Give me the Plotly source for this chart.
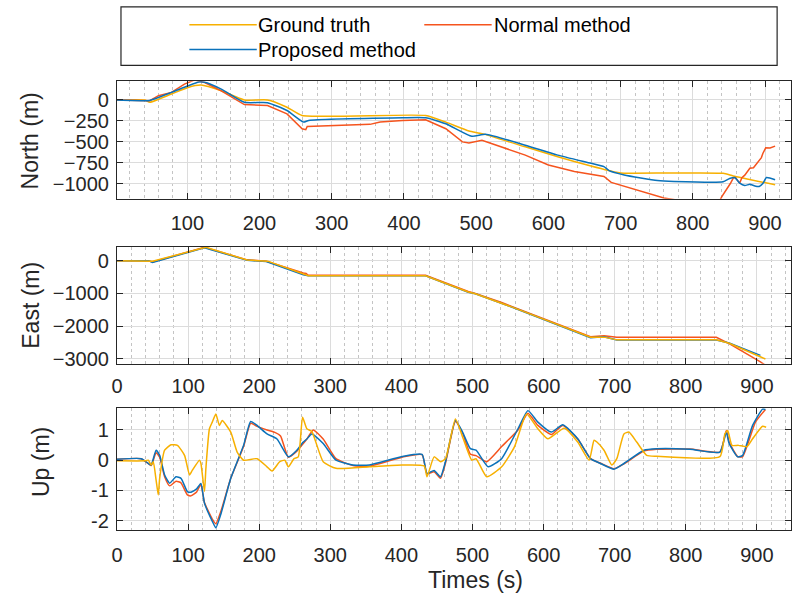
import plotly.graph_objects as go

# ---------------- data ----------------
# North (m)
north_t_gt = [2.6, 41, 48, 78, 101, 119, 147, 179, 211, 238, 259, 430, 458, 490, 508, 568, 613, 659, 696, 705, 842, 856, 914]
north_gt = [0, 0, -28, 71, 150, 178, 110, 0, 0, -87, -186, -186, -265, -371, -403, -561, -680, -790, -869, -877, -877, -909, -1016]

north_t_prop = [2.6, 41, 48, 78, 101, 116, 124, 147, 179, 211, 238, 261, 268, 398, 430, 458, 494, 513, 568, 613, 659, 677, 684, 705, 751, 774, 842, 851, 858, 865, 872, 879, 886, 892, 897, 902, 914]
north_prop = [0, -8, -5, 91, 170, 215, 212, 130, -28, -32, -126, -265, -245, -213, -213, -284, -435, -411, -541, -660, -758, -798, -845, -897, -964, -975, -979, -940, -928, -995, -1023, -1010, -1030, -1035, -1000, -928, -956]

north_t_norm = [2.6, 41, 48, 60, 78, 96, 110, 124, 147, 179, 211, 238, 259, 264, 266, 353, 367, 398, 430, 458, 481, 490, 508, 568, 600, 636, 677, 687, 728, 760, 790, 836, 840, 843, 846, 849, 852, 856, 859, 865, 868, 872, 875, 879, 884, 887, 892, 895, 897, 901, 907, 914]
north_norm = [0, 0, -8, 51, 91, 190, 240, 209, 110, -55, -67, -166, -344, -356, -316, -292, -265, -245, -237, -344, -502, -514, -482, -660, -778, -857, -916, -987, -1094, -1173, -1215, -1230, -1160, -1120, -1080, -1050, -1000, -936, -928, -995, -930, -900, -870, -818, -812, -780, -719, -690, -640, -573, -575, -553]

# East (m)
east_t_gt = [0, 44, 50, 125, 183, 212, 262, 269, 434, 494, 504, 541, 555, 666, 685, 703, 843, 861, 912]
east_gt = [0, 0, -20, 410, 18, -15, -420, -460, -460, -960, -1011, -1294, -1415, -2344, -2340, -2424, -2424, -2526, -3011]

east_t_prop = [0, 44, 50, 123, 183, 210, 262, 269, 434, 494, 504, 541, 555, 666, 685, 703, 843, 861, 905]
east_prop = [0, 0, -52, 395, 10, -25, -430, -465, -465, -970, -1011, -1310, -1420, -2360, -2330, -2430, -2430, -2520, -2900]

east_t_norm = [0, 44, 50, 123, 183, 210, 262, 266, 269, 434, 494, 504, 541, 555, 666, 685, 703, 843, 861, 905, 912]
east_norm = [0, 0, -40, 410, 25, -15, -380, -390, -445, -445, -940, -1000, -1280, -1400, -2330, -2300, -2340, -2343, -2540, -3100, -3200]

# Up (m)
up_t_gt = [0, 40, 44, 48, 51, 55, 58, 60, 67, 76, 85, 95, 102, 106, 116, 118, 123, 125, 130, 134, 139, 144, 148, 160, 169, 178, 197, 211, 218, 229, 236, 241, 249, 255, 261, 267, 274, 290, 308, 355, 401, 432, 436, 446, 455, 462, 476, 487, 499, 505, 520, 541, 559, 576, 592, 606, 629, 648, 664, 671, 675, 685, 696, 703, 713, 720, 731, 745, 759, 848, 855, 859, 865, 874, 886, 894, 908, 913]
up_gt = [-0.02, -0.02, 0.0, -0.16, -0.05, -0.66, -1.15, -0.6, 0.33, 0.51, 0.49, 0.16, -0.49, -0.33, 0.0, -0.1, -1.04, -0.28, 1.04, 1.26, 1.53, 1.15, 1.31, 0.93, 0.27, 0.0, 0.05, -0.22, -0.36, -0.05, 0.0, -0.22, 0.05, 0.11, 1.42, 1.04, 0.95, -0.05, -0.27, -0.22, -0.16, -0.19, -0.55, 0.11, -0.05, 0.05, 1.36, 0.71, 0.0, 0.05, -0.55, -0.22, 0.44, 1.53, 1.04, 0.71, 1.06, 0.6, 0.0, 0.66, 0.6, 0.33, -0.16, 0.05, 0.87, 0.93, 0.6, 0.16, 0.13, 0.12, 0.87, 0.98, 0.49, 0.49, 0.45, 0.71, 1.12, 1.09]

up_t_prop = [0, 34, 44, 48, 55, 60, 67, 74, 83, 90, 99, 104, 112, 118, 123, 134, 139, 146, 160, 178, 188, 197, 211, 225, 241, 253, 262, 267, 274, 290, 308, 332, 355, 401, 429, 436, 446, 455, 462, 476, 486, 497, 505, 522, 541, 564, 578, 592, 611, 627, 648, 666, 680, 699, 713, 741, 759, 806, 848, 857, 861, 873, 880, 894, 908, 912]
up_prop = [0.03, 0.05, -0.11, -0.16, 0.33, 0.16, -0.49, -0.76, -0.55, -0.6, -1.04, -1.06, -0.95, -0.77, -1.42, -2.02, -2.24, -1.79, -0.6, 0.49, 1.28, 1.15, 0.87, 0.7, 0.11, 0.33, 0.6, 0.7, 0.87, 0.55, 0.0, -0.16, -0.16, 0.12, 0.19, -0.44, -0.34, -0.55, -0.05, 1.31, 0.93, 0.38, 0.33, -0.22, 0.05, 1.04, 1.64, 1.26, 0.93, 1.17, 0.71, 0.05, -0.11, -0.3, -0.11, 0.33, 0.38, 0.36, 0.27, 0.93, 0.55, 0.11, 0.16, 1.15, 1.69, 1.68]

up_t_norm = [0, 34, 44, 48, 55, 60, 67, 74, 83, 90, 99, 104, 112, 118, 123, 134, 139, 146, 160, 178, 188, 197, 211, 222, 230, 241, 253, 262, 267, 276, 290, 308, 332, 355, 401, 429, 436, 446, 455, 462, 476, 486, 497, 505, 520, 541, 564, 578, 592, 611, 627, 648, 666, 680, 699, 713, 741, 759, 806, 848, 857, 861, 873, 880, 898, 912]
up_norm = [0.03, 0.05, -0.11, -0.18, 0.25, 0.1, -0.55, -0.85, -0.7, -0.75, -1.15, -1.18, -1.05, -0.8, -1.4, -1.95, -2.1, -1.7, -0.6, 0.45, 1.22, 1.12, 1.0, 0.92, 0.8, 0.1, 0.3, 0.55, 0.7, 1.0, 0.7, 0.05, -0.18, -0.2, 0.1, 0.18, -0.45, -0.38, -0.6, -0.1, 1.28, 0.9, 0.2, 0.15, -0.05, 0.45, 1.0, 1.55, 1.15, 0.85, 1.15, 0.7, 0.05, -0.1, -0.28, -0.12, 0.3, 0.36, 0.37, 0.27, 0.98, 0.6, 0.12, 0.12, 1.26, 1.68]

series_names = ["Ground truth", "Normal method", "Proposed method"]
up_tickvals = [-2, -1, 0, 1]
up_ticktext = ["-2", "-1", "0", "1"]

# ---------------- styling ----------------
W, H = 792, 604
FONT = "Liberation Sans, Arial, sans-serif"
C_GT, C_NORM, C_PROP = "#F7B000", "#F5541E", "#0A72BA"
colors = {"Ground truth": C_GT, "Normal method": C_NORM, "Proposed method": C_PROP}
AX = "#262626"
LW = 1.5

def px_x(p):
    return p / W

def px_y(p):
    return 1 - p / H

fig = go.Figure()

def add(t, v, name, xa, ya, shape="linear"):
    line = dict(color=colors[name], width=LW, shape=shape)
    if shape == "spline":
        line["smoothing"] = 0.5
    fig.add_trace(go.Scatter(x=t, y=v, mode="lines", name=name, showlegend=False,
                             line=line, xaxis=xa, yaxis=ya))

# North panel: GT, Normal, Proposed
add(north_t_gt, north_gt, "Ground truth", "x", "y", "spline")
add(north_t_norm, north_norm, "Normal method", "x", "y")
add(north_t_prop, north_prop, "Proposed method", "x", "y", "spline")
# East panel
add(east_t_norm, east_norm, "Normal method", "x2", "y2")
add(east_t_prop, east_prop, "Proposed method", "x2", "y2")
add(east_t_gt, east_gt, "Ground truth", "x2", "y2")
# Up panel
add(up_t_norm, up_norm, "Normal method", "x3", "y3", "spline")
add(up_t_prop, up_prop, "Proposed method", "x3", "y3", "spline")
add(up_t_gt, up_gt, "Ground truth", "x3", "y3", "spline")

xdom = [px_x(112), 1.0]
doms = [[px_y(200.7), px_y(82)], [px_y(367.3), px_y(249)], [px_y(535), px_y(412.3)]]

def xax(rng, anchor, standoff):
    return dict(domain=xdom, range=rng, anchor=anchor, dtick=100, tick0=0,
                showgrid=True, gridcolor="#DCDCDC", gridwidth=1,
                minor=dict(dtick=20, tick0=0, showgrid=True, gridcolor="#C4C4C4", griddash="dot", ticks=""),
                ticks="inside", ticklen=6, tickwidth=1.2, tickcolor=AX,
                showline=True, linecolor=AX, linewidth=1.2, mirror="allticks",
                zeroline=False, tickfont=dict(family=FONT, size=20, color=AX),
                ticklabelstandoff=standoff)

def yax(rng, dom, anchor, **kw):
    d = dict(domain=dom, range=rng, anchor=anchor,
             showgrid=True, gridcolor="#DCDCDC", gridwidth=1,
             ticks="inside", ticklen=6, tickwidth=1.2, tickcolor=AX,
             showline=True, linecolor=AX, linewidth=1.2, mirror="allticks",
             zeroline=False, tickfont=dict(family=FONT, size=20, color=AX),
             ticklabelstandoff=3)
    d.update(kw)
    return d

fig.update_layout(
    width=W, height=H, margin=dict(l=0, r=0, t=0, b=0),
    paper_bgcolor="white", plot_bgcolor="white",
    showlegend=False,
    xaxis=xax([2.6, 936], "y", 6),
    xaxis2=xax([0, 948], "y2", 4),
    xaxis3=xax([0, 948], "y3", 7),
    yaxis=yax([-1182, 225], doms[0], "x", dtick=250, tick0=0),
    yaxis2=yax([-3152, 433], doms[1], "x2", dtick=1000, tick0=0),
    yaxis3=yax([-2.3, 1.72], doms[2], "x3", tickvals=up_tickvals, ticktext=up_ticktext),
)

# axis titles
tfont = dict(family=FONT, size=23, color=AX)
for txt, cx, cy in [("North (m)", 24, 142), ("East (m)", 25, 308), ("Up (m)", 36, 467)]:
    fig.add_annotation(text=txt, x=px_x(cx), y=px_y(cy), xref="paper", yref="paper",
                       textangle=-90, showarrow=False, xanchor="center", yanchor="middle", font=tfont)
fig.add_annotation(text="Times (s)", x=px_x(474), y=px_y(586), xref="paper", yref="paper",
                   showarrow=False, xanchor="center", yanchor="middle", font=tfont)

# legend box (drawn)
fig.add_shape(type="rect", xref="paper", yref="paper", x0=px_x(116), x1=px_x(778),
              y0=px_y(66), y1=px_y(7), line=dict(color=AX, width=1.2), fillcolor="white")
leg = [("Ground truth", 185, 253, 252, 25), ("Normal method", 422, 490, 490, 25),
       ("Proposed method", 185, 253, 252, 50)]
lfont = dict(family=FONT, size=20, color="#000000")
for name, lx0, lx1, tx, ty in leg:
    fig.add_shape(type="line", xref="paper", yref="paper", x0=px_x(lx0), x1=px_x(lx1),
                  y0=px_y(ty), y1=px_y(ty), line=dict(color=colors[name], width=LW))
    fig.add_annotation(text=name, x=px_x(tx), y=px_y(ty), xref="paper", yref="paper",
                       showarrow=False, xanchor="left", yanchor="middle", font=lfont)

fig.write_html("out.html")
